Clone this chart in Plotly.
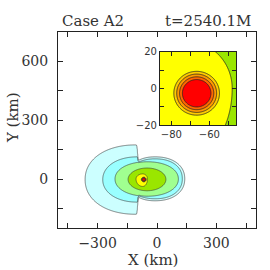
import numpy as np
import plotly.graph_objects as go

# ---------------- data ----------------
# band colours, outside -> inside (index = band value)
band_colors = ["#ffffff", "#ccffff", "#99ffff", "#a0ff90", "#9ae600",
               "#ffff00", "#ffcc00", "#ff9900", "#ff6600", "#ff0000"]

# Each contour level region is a union of super-ellipses (km):
# (cx, cy, a_left, a_right, b_top, b_bottom, exponent)
level1_light_cyan = [(-105, -3, 258, 10, 177, 177, 2.15), (-10, 1, 140, 150, 112, 112, 2.2)]
level2_cyan = [(-100, -3, 174, 10, 116, 115, 2.1), (-10, 1, 135, 138, 102, 102, 2.2)]
level3_light_green = [(-50, 0, 162, 158, 88, 88, 2.1)]
level4_yellow_green = [(-50, -2, 96, 95, 58, 58, 2.0)]
level5_yellow = [(-72, 0, 34, 24, 26, 38, 2.0)]
core_x, core_y = -66.7, -2.6
core_radii = [12.0, 10.5, 9.0, 7.5]   # light orange, orange, dark orange, red

title_left = "Case A2"
title_right = "t=2540.1M"
x_ticks_main = [-450, -300, -150, 0, 150, 300, 450]
x_text_main = ["", "\u2212300", "", "0", "", "300", ""]
y_ticks_main = [-150, 0, 150, 300, 450, 600]
y_text_main = ["", "0", "", "300", "", "600"]
x_ticks_inset = [-80, -70, -60, -50]
x_text_inset = ["\u221280", "", "\u221260", ""]
y_ticks_inset = [-20, -10, 0, 10, 20]
y_text_inset = ["\u221220", "", "0", "", "20"]

levels = [level1_light_cyan, level2_cyan, level3_light_green, level4_yellow_green,
          level5_yellow] + [[(core_x, core_y, r, r, r, r, 2.0)] for r in core_radii]


def rho(X, Y, prm):
    cx, cy, al, ar, bt, bb, p = prm
    dx = X - cx
    dy = Y - cy
    a = np.where(dx < 0, al, ar)
    b = np.where(dy > 0, bt, bb)
    return (np.abs(dx / a) ** p + np.abs(dy / b) ** p) ** (1.0 / p)


def field(xs, ys, sharp=25.0):
    X, Y = np.meshgrid(xs, ys)
    z = np.zeros_like(X, dtype=float)
    for shapes in levels:
        r = np.min([rho(X, Y, s) for s in shapes], axis=0)
        z += 0.5 * (1 + np.tanh(sharp * (1 - r)))
    return np.round(z, 3)


xm = np.arange(-420, 201, 2.0)
ym = np.arange(-240, 241, 2.0)
zm = field(xm, ym)

xi = np.arange(-88, -43.9, 0.25)
yi = np.arange(-22, 22.1, 0.25)
zi = field(xi, yi)

cs = []
n = len(band_colors)
for i, c in enumerate(band_colors):
    cs.append([i / n, c])
    cs.append([(i + 1) / n, c])

contour_common = dict(
    colorscale=cs, zmin=-0.5, zmax=n - 0.5, showscale=False,
    contours=dict(start=0.5, end=n - 1.5, size=1, coloring="fill", showlines=True),
    hoverinfo="skip",
)

fig = go.Figure()
fig.add_trace(go.Contour(x=xm, y=ym, z=zm, line=dict(color="#333333", width=0.6),
                         xaxis="x", yaxis="y", **contour_common))
fig.add_trace(go.Contour(x=xi, y=yi, z=zi, line=dict(color="#222222", width=0.8),
                         xaxis="x2", yaxis="y2", **contour_common))

txt = "#333333"
font_main = dict(family="DejaVu Serif", size=14, color=txt)
font_inset = dict(family="DejaVu Sans", size=10, color=txt)

axis_common = dict(showgrid=False, zeroline=False, showline=True, linecolor="#222222",
                   linewidth=1, mirror="ticks", ticks="inside", tickcolor="#222222",
                   tickmode="array", automargin=False)

fig.update_layout(
    width=270, height=270,
    margin=dict(l=58, r=14, t=32, b=42),
    paper_bgcolor="white", plot_bgcolor="white",
    showlegend=False,
    xaxis=dict(domain=[0, 1], range=[-500, 500], tickvals=x_ticks_main, ticktext=x_text_main,
               ticklen=5, tickfont=font_main, ticklabelstandoff=2, **axis_common),
    yaxis=dict(domain=[0, 1], range=[-250, 750], tickvals=y_ticks_main, ticktext=y_text_main,
               ticklen=5, tickfont=font_main, ticklabelstandoff=6, **axis_common),
    xaxis2=dict(domain=[0.515, 0.899], anchor="y2", range=[-86, -46], tickvals=x_ticks_inset,
                ticktext=x_text_inset, ticklen=4, tickfont=font_inset, **axis_common),
    yaxis2=dict(domain=[0.5255, 0.898], anchor="x2", range=[-20, 20], tickvals=y_ticks_inset,
                ticktext=y_text_inset, ticklen=4, tickfont=font_inset, **axis_common),
    annotations=[
        dict(text=title_left, x=0.01, y=1.056, xref="paper", yref="paper", xanchor="left",
             yanchor="middle", showarrow=False, font=dict(family="DejaVu Serif", size=15, color=txt)),
        dict(text=title_right, x=0.985, y=1.056, xref="paper", yref="paper", xanchor="right",
             yanchor="middle", showarrow=False, font=dict(family="DejaVu Serif", size=15, color=txt)),
        dict(text="X (km)", x=0.48, y=-0.163, xref="paper", yref="paper", xanchor="center",
             yanchor="middle", showarrow=False, font=dict(family="DejaVu Serif", size=15, color=txt)),
        dict(text="Y (km)", x=-0.227, y=0.561, xref="paper", yref="paper", xanchor="center",
             yanchor="middle", textangle=-90, showarrow=False,
             font=dict(family="DejaVu Serif", size=15, color=txt)),
    ],
)

fig.write_html("out.html", config={"displayModeBar": False, "staticPlot": True},
               post_script="document.body.style.margin='0';document.body.style.overflow='hidden';")
